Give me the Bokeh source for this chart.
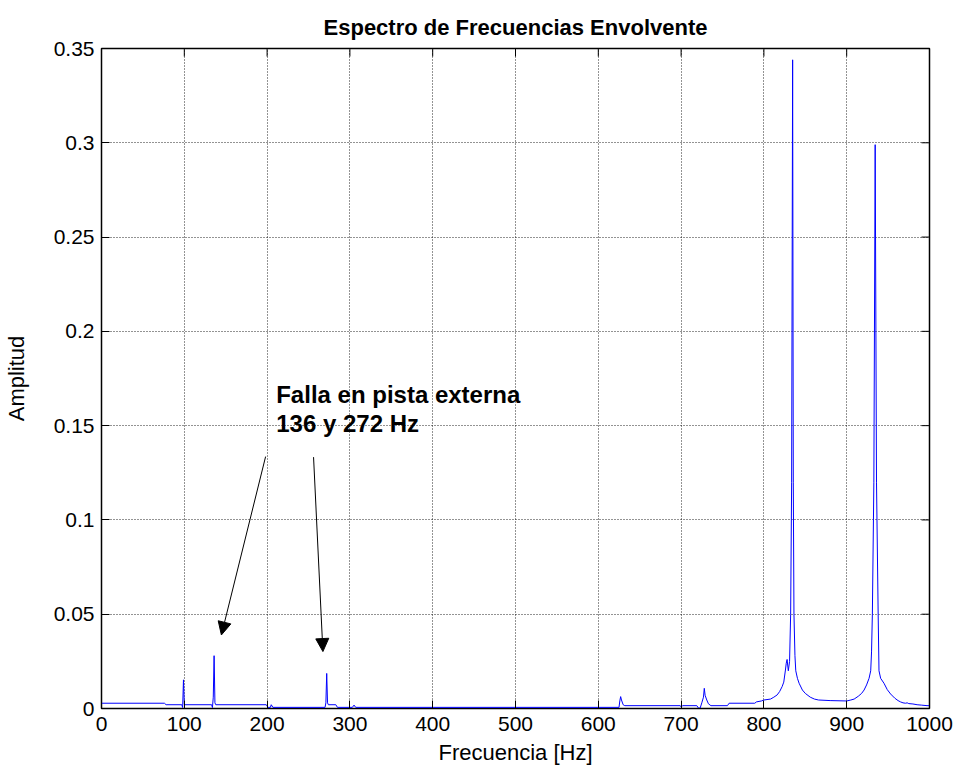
import math
from bokeh.plotting import figure
from bokeh.models import (Range1d, FixedTicker, NumeralTickFormatter,
                          Arrow, NormalHead, Label, ColumnDataSource)
from bokeh.embed import file_html
from bokeh.resources import INLINE

# ---------------- data ----------------
freq = [0, 76, 78, 97, 98, 99, 100, 133, 134, 135, 136, 137, 138, 199, 201, 204, 205, 207,
        270, 271, 272, 273, 274, 283, 285, 303, 305, 307,
        625, 626, 627, 628, 630, 632, 699, 700, 702, 719, 721, 723, 725, 727, 728, 729, 731,
        733, 736, 756, 758, 789, 791, 797, 800, 808, 812, 816, 819, 822, 824, 826, 827, 828,
        829.5, 831, 832.3, 833.5, 834.7, 835.5, 836.3, 837.5, 838.5, 840.5, 842.5, 846.5,
        850, 856, 861, 866, 880, 900, 905, 909, 914, 918, 921, 924, 927, 929, 930, 931,
        932.8, 934.4, 936, 938, 939, 941, 945, 949, 953, 958, 962, 965, 968, 971, 973, 975,
        980, 985, 990, 997, 1000]
amp = [0.0028, 0.0028, 0.0020, 0.0020, 0.0005, 0.0152, 0.0020, 0.0020, 0.0005, 0.0060,
       0.0280, 0.0030, 0.0020, 0.0020, 0.0006, 0.0006, 0.0020, 0.0006,
       0.0006, 0.0030, 0.0186, 0.0030, 0.0020, 0.0020, 0.0006, 0.0006, 0.0018, 0.0006,
       0.0006, 0.0040, 0.0063, 0.0045, 0.0020, 0.0015, 0.0015, 0.0008, 0.0015, 0.0015,
       0.0002, 0.0002, 0.0030, 0.0060, 0.0107, 0.0070, 0.0045,
       0.0025, 0.0015, 0.0015, 0.0028, 0.0028, 0.0035, 0.0040, 0.0045, 0.0050, 0.0060,
       0.0072, 0.0090, 0.0116, 0.0140, 0.0204, 0.0240, 0.0260,
       0.0200, 0.0250, 0.0500, 0.1200, 0.3440, 0.1200, 0.0500, 0.0280, 0.0200, 0.0160,
       0.0134, 0.0098,
       0.0080, 0.0060, 0.0050, 0.0045, 0.0042, 0.0040, 0.0045, 0.0050, 0.0065, 0.0080,
       0.0098, 0.0125, 0.0160, 0.0200, 0.0300, 0.0500,
       0.1200, 0.2990, 0.1200, 0.0500, 0.0200, 0.0160, 0.0134, 0.0100, 0.0077, 0.0055,
       0.0042, 0.0035, 0.0030, 0.0028, 0.0030, 0.0026,
       0.0024, 0.0020, 0.0018, 0.0015, 0.0015]

x_ticks = [0, 100, 200, 300, 400, 500, 600, 700, 800, 900, 1000]
y_ticks = [0, 0.05, 0.1, 0.15, 0.2, 0.25, 0.3, 0.35]

title_text = "Espectro de Frecuencias Envolvente"
x_label = "Frecuencia [Hz]"
y_label = "Amplitud"
note_lines = ["Falla en pista externa", "136 y 272 Hz"]
# arrows: (x_start, y_start, x_end, y_end)
arrows = [(198.2, 0.1336, 144.8, 0.0390), (256.1, 0.1333, 267.4, 0.0302)]

FONT = "Liberation Sans"
X_MAX, Y_MAX = 1000, 0.35

p = figure(width=954, height=768, output_backend="svg", toolbar_location=None,
           x_range=Range1d(0, X_MAX), y_range=Range1d(0, Y_MAX),
           min_border_left=100, min_border_right=25, min_border_top=48, min_border_bottom=60,
           title=title_text)

p.title.text_font = FONT
p.title.text_font_size = "22px"
p.title.text_font_style = "bold"
p.title.align = "center"
p.title.text_color = "black"
p.title.standoff = 18

src = ColumnDataSource(dict(f=freq, a=amp))
p.line("f", "a", source=src, line_color="#0000FF", line_width=1)

for ax, ticks in ((p.xaxis[0], x_ticks), (p.yaxis[0], y_ticks)):
    ax.ticker = FixedTicker(ticks=ticks)
    ax.major_tick_in = 8
    ax.major_tick_out = 0
    ax.minor_tick_in = 0
    ax.minor_tick_out = 0
    ax.axis_line_color = "black"
    ax.major_tick_line_color = "black"
    ax.major_label_text_font = FONT
    ax.major_label_text_font_size = "21px"
    ax.major_label_text_color = "black"
    ax.axis_label_text_font = FONT
    ax.axis_label_text_font_size = "22px"
    ax.axis_label_text_font_style = "normal"
    ax.axis_label_text_color = "black"

p.xaxis[0].axis_label = x_label
p.yaxis[0].axis_label = y_label
p.yaxis[0].formatter = NumeralTickFormatter(format="0.[00]")
p.xaxis[0].major_label_standoff = 8
p.xaxis[0].axis_label_standoff = 6
p.yaxis[0].major_label_standoff = 7
p.yaxis[0].axis_label_standoff = 22

# inward tick marks on the top and right edges of the box
p.ray(x=x_ticks, y=[Y_MAX] * len(x_ticks), length=8, length_units="screen",
      angle=-math.pi / 2, line_color="black", line_width=1)
p.ray(x=[X_MAX] * len(y_ticks), y=y_ticks, length=8, length_units="screen",
      angle=math.pi, line_color="black", line_width=1)

for g, ticks in ((p.xgrid[0], x_ticks), (p.ygrid[0], y_ticks)):
    g.ticker = FixedTicker(ticks=ticks)
    g.grid_line_color = "black"
    g.grid_line_dash = "1 2"
    g.grid_line_width = 1
    g.grid_line_alpha = 0.85

p.outline_line_color = "black"
p.outline_line_width = 1.5
p.background_fill_color = "white"
p.border_fill_color = "white"

for xs, ys, xe, ye in arrows:
    p.add_layout(Arrow(x_start=xs, y_start=ys, x_end=xe, y_end=ye,
                       line_color="black", line_width=1,
                       end=NormalHead(size=13, fill_color="black", line_color="black")))

for txt, yy in zip(note_lines, [0.1664, 0.1510]):
    p.add_layout(Label(x=211, y=yy, text=txt, text_font=FONT, text_font_size="24px",
                       text_font_style="bold", text_color="black",
                       text_baseline="alphabetic", text_align="left"))

open("out.html", "w").write(file_html(p, INLINE))
